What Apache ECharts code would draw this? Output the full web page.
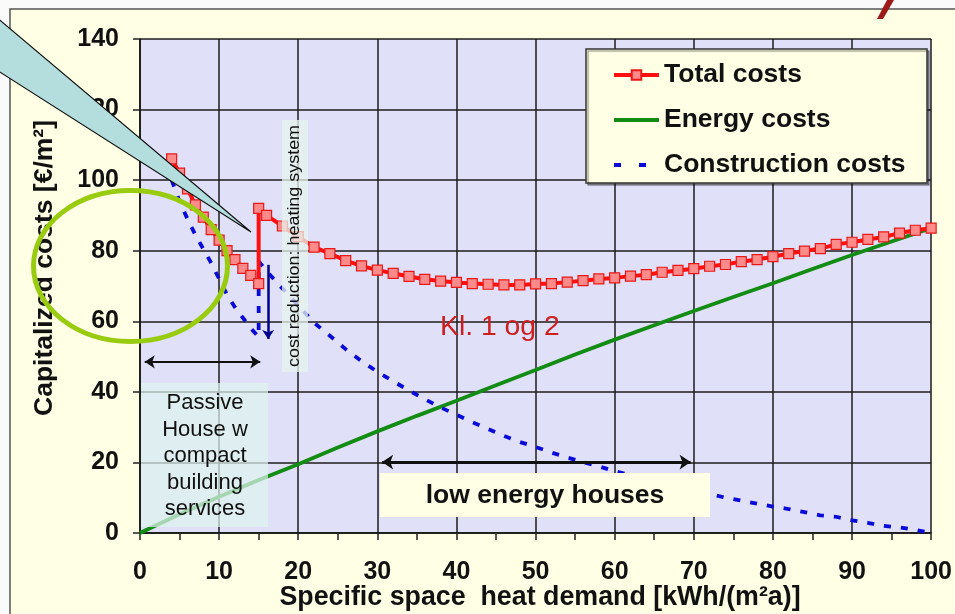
<!DOCTYPE html>
<html><head><meta charset="utf-8">
<script src="https://cdn.jsdelivr.net/npm/echarts@6/dist/echarts.min.js"></script>
<style>html,body{margin:0;padding:0;background:#fafafa}#c{width:955px;height:614px}</style>
</head><body><div id="c"></div>
<script>
const FONT = '"Liberation Sans", Arial, Helvetica, sans-serif';
const seriesNames = ['Total costs', 'Energy costs', 'Construction costs'];

const totalX = [4,5,6,7,8,9,10,11,12,13,14,15,15,16,18,20,22,24,26,28,30,32,34,36,38,40,42,44,46,48,50,52,54,56,58,60,62,64,66,68,70,72,74,76,78,80,82,84,86,88,90,92,94,96,98,100];
const totalY = [106,102,97.5,93,89.5,86,83,80,77.5,75,73,70.7,92,90,87,84,81,79.2,77.2,75.7,74.5,73.6,72.7,71.9,71.4,71,70.7,70.5,70.3,70.3,70.6,70.7,71.1,71.5,72,72.3,72.8,73.2,73.9,74.4,74.9,75.6,76.1,76.9,77.5,78.3,79.2,79.9,80.6,81.8,82.4,83.2,83.9,85,85.8,86.4];

const energyX = [0,5,10,15,20,25,30,35,40,45,50,55,60,65,70,75,80,85,90,95,100];
const energyY = [0,5.3,10.3,15,19.5,24.2,28.8,33.2,37.5,41.9,46.2,50.6,54.8,58.9,62.9,66.9,70.8,74.8,78.8,82.6,86.4];

const constructionX = [4,5,6,7,8,9,10,11,12,13,14,15,15,16,18,20,22,24,26,28,30,32,34,36,38,40,42,44,46,48,50,52,54,56,58,60,62,64,66,68,70,72,74,76,78,80,82,84,86,88,90,92,94,96,98,100];
const constructionY = [100,94,89,84.5,80.5,76.5,72,67.5,64,61,58,55.6,77,74.2,69.3,64.5,59.6,55.9,52.1,48.7,45.7,43,40.4,37.9,35.6,33.5,31.4,29.5,27.5,25.8,24.4,22.8,21.4,20.1,18.9,17.5,16.4,15.1,14.2,13.1,12,11.1,10,9.2,8.3,7.5,6.8,5.9,5,4.6,3.6,2.9,2,1.6,0.9,0];

// annotation spans (data units)
const passiveSpanX = [0.6, 15.2];
const passiveSpanY = 48.5;
const lowEnergySpanX = [30.6, 69.6];
const lowEnergySpanY = 20.1;
const heatingDropX = 16.2;
const heatingDropY = [76, 55];

const xAxisTitle = 'Specific space  heat demand [kWh/(m\u00b2a)]';
const yAxisTitle = 'Capitalized costs [\u20ac/m\u00b2]';
const passiveLines = ['Passive', 'House w', 'compact', 'building', 'services'];
const heatingText = 'cost reduction: heating system';
const lowEnergyText = 'low energy houses';
const klText = 'Kl. 1 og 2';

const pairs = (xs, ys) => xs.map((x, i) => [x, ys[i]]);

const chart = echarts.init(document.getElementById('c'), null, {renderer: 'canvas'});

const graphics = [
  {type: 'rect', z: -10, shape: {x: 10, y: 9, width: 1000, height: 700}, style: {fill: '#FFFFE6', stroke: '#555', lineWidth: 1.5}},
  {type: 'rect', z: 10, shape: {x: 141, y: 383, width: 127, height: 144}, style: {fill: 'rgba(222,242,238,0.72)'}},
  {type: 'text', z: 11, x: 205, y: 456, style: {text: passiveLines.join('\n'), fontFamily: FONT, fontSize: 22, lineHeight: 26.5, fill: '#111', align: 'center', verticalAlign: 'middle'}},
  {type: 'rect', z: 10, shape: {x: 282, y: 120, width: 26, height: 252}, style: {fill: 'rgba(232,244,236,0.75)'}},
  {type: 'text', z: 11, x: 295, y: 246, rotation: Math.PI / 2, scaleX: 1.12, style: {text: heatingText, fontFamily: FONT, fontSize: 16, fill: '#111', align: 'center', verticalAlign: 'middle'}},
  {type: 'rect', z: 10, shape: {x: 380, y: 473, width: 330, height: 44}, style: {fill: '#FFFFE6'}},
  {type: 'text', z: 11, x: 545, y: 496, style: {text: lowEnergyText, fontFamily: FONT, fontSize: 26.5, fontWeight: 'bold', fill: '#111', align: 'center', verticalAlign: 'middle'}},
  {type: 'text', z: 11, x: 440, y: 328, scaleX: 1.05, style: {text: klText, fontFamily: FONT, fontSize: 27, fill: '#CC2020', align: 'left', verticalAlign: 'middle'}},
  {type: 'rect', z: 15, shape: {x: 586, y: 49, width: 341, height: 134}, style: {fill: '#FFFFE6', stroke: '#333', lineWidth: 1.5, shadowColor: 'rgba(0,0,0,0.35)', shadowOffsetX: 2, shadowOffsetY: 2, shadowBlur: 1}},
  {type: 'text', z: 5, x: 45, y: 268, rotation: Math.PI / 2, style: {text: yAxisTitle, fontFamily: FONT, fontSize: 26.5, fontWeight: 'bold', fill: '#111', align: 'center', verticalAlign: 'middle'}},
  {type: 'text', z: 5, x: 540, y: 598, style: {text: xAxisTitle, fontFamily: FONT, fontSize: 26.8, fontWeight: 'bold', fill: '#111', align: 'center', verticalAlign: 'middle'}},
  {type: 'polygon', z: 30, shape: {points: [[-30, -5], [251, 232], [-30, 53]]}, style: {fill: '#B4DEDE', stroke: '#111', lineWidth: 1.2}},
  {type: 'ellipse', z: 31, shape: {cx: 130.5, cy: 266, rx: 97, ry: 75.5}, style: {fill: 'none', stroke: '#99CC11', lineWidth: 5}},
  {type: 'polygon', z: 31, shape: {points: [[877, 19], [883, 19], [894, 0], [887, 0]]}, style: {fill: '#9E1A1A'}}
];

const option = {
  animation: false,
  backgroundColor: '#fafafa',
  textStyle: {fontFamily: FONT},
  grid: {left: 140, right: 13, top: 39, bottom: 81, show: true, backgroundColor: '#E0E0F8', borderWidth: 0},
  legend: {
    data: [
      {name: seriesNames[0], lineStyle: {width: 4}},
      {name: seriesNames[1], itemStyle: {opacity: 0}, lineStyle: {width: 4}},
      {name: seriesNames[2], itemStyle: {opacity: 0}, lineStyle: {width: 4, type: [7, 18]}}
    ],
    orient: 'vertical', left: 612, top: 60, padding: 0, itemWidth: 45, itemHeight: 12, itemGap: 15, z: 20,
    textStyle: {fontFamily: FONT, fontSize: 26.5, fontWeight: 'bold', color: '#111', lineHeight: 30}
  },
  xAxis: {
    type: 'value', min: 0, max: 100, interval: 10,
    axisLine: {show: true, onZero: false, lineStyle: {color: '#111', width: 1.5}},
    axisTick: {show: true, length: 7, lineStyle: {color: '#222', width: 1.5}},
    minorTick: {show: true, splitNumber: 2, length: 7, lineStyle: {color: '#222', width: 1.5}},
    splitLine: {show: true, lineStyle: {color: '#1c1c1c', width: 1.5}},
    axisLabel: {margin: 27, fontFamily: FONT, fontSize: 25, fontWeight: 'bold', color: '#111'}
  },
  yAxis: {
    type: 'value', min: 0, max: 140, interval: 20,
    axisLine: {show: true, onZero: false, lineStyle: {color: '#111', width: 1.5}},
    axisTick: {show: true, length: 7, lineStyle: {color: '#222', width: 1.5}},
    splitLine: {show: true, lineStyle: {color: '#1c1c1c', width: 1.5}},
    axisLabel: {margin: 21, fontFamily: FONT, fontSize: 25, fontWeight: 'bold', color: '#111'}
  },
  series: [
    {
      name: seriesNames[0], type: 'line', z: 4, data: pairs(totalX, totalY),
      symbol: 'rect', symbolSize: 10, showSymbol: true,
      lineStyle: {color: '#FF1010', width: 4},
      itemStyle: {color: '#FF8A8A', borderColor: '#E81818', borderWidth: 1.2}
    },
    {
      name: seriesNames[1], type: 'line', z: 3, data: pairs(energyX, energyY),
      symbol: 'none', showSymbol: false,
      lineStyle: {color: '#128C12', width: 3.8}, itemStyle: {color: '#128C12'}
    },
    {
      name: seriesNames[2], type: 'line', z: 3, data: pairs(constructionX, constructionY),
      symbol: 'none', showSymbol: false,
      lineStyle: {color: '#0A0AD8', width: 3.8, type: [7, 10]}, itemStyle: {color: '#0A0AD8'}
    },
    {
      name: 'annotations', type: 'line', data: [], z: 12, silent: true,
      markLine: {
        silent: true, animation: false, label: {show: false},
        data: [
          [{coord: [passiveSpanX[0], passiveSpanY], symbol: 'arrow', symbolSize: 10, lineStyle: {color: '#111', width: 2, type: 'solid'}},
           {coord: [passiveSpanX[1], passiveSpanY], symbol: 'arrow', symbolSize: 10}],
          [{coord: [lowEnergySpanX[0], lowEnergySpanY], symbol: 'arrow', symbolSize: 11, lineStyle: {color: '#111', width: 3, type: 'solid'}},
           {coord: [lowEnergySpanX[1], lowEnergySpanY], symbol: 'arrow', symbolSize: 11}],
          [{coord: [heatingDropX, heatingDropY[0]], symbol: 'none', lineStyle: {color: '#00008A', width: 2.5, type: 'solid'}},
           {coord: [heatingDropX, heatingDropY[1]], symbol: 'arrow', symbolSize: 9}]
        ]
      }
    }
  ],
  graphic: {elements: graphics}
};
chart.setOption(option);
</script></body></html>
